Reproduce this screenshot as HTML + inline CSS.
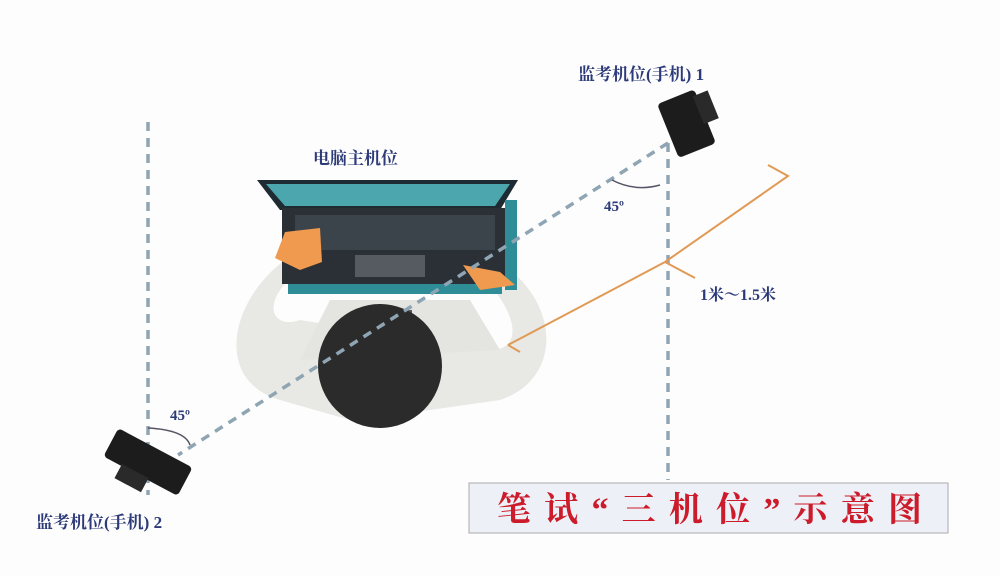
<!DOCTYPE html>
<html><head><meta charset="utf-8"><style>
html,body{margin:0;padding:0;background:#fff;}
svg{display:block}
text{font-family:"Liberation Serif","Noto Serif CJK SC",serif;font-weight:bold}
</style></head><body>
<svg width="1000" height="576" viewBox="0 0 1000 576">
<rect width="1000" height="576" fill="#fdfdfd"/>
<path d="M300,250 C230,290 210,380 280,400 L350,420 L430,410 L500,400 C560,380 560,310 510,270 L490,285 C520,320 520,350 490,350 L300,320 C270,330 260,300 300,270 Z" fill="#e8e8e4"/>
<path d="M330,300 L470,300 L500,350 L300,360 Z" fill="#e4e4e0"/>
<polygon points="257,180 518,180 500,210 280,210" fill="#1f2b33"/>
<polygon points="266,184 510,184 495,206 285,206" fill="#4ba7ad"/>
<rect x="282" y="208" width="228" height="76" fill="#2a3036"/>
<rect x="288" y="284" width="214" height="10" fill="#2e8d96"/>
<rect x="505" y="200" width="12" height="90" fill="#2e8d96"/>
<g fill="#3c444b"><rect x="295" y="215" width="200" height="35"/></g>
<rect x="355" y="255" width="70" height="22" fill="#555b60"/>
<path d="M275,258 L285,232 L320,228 L322,262 L300,270 Z" fill="#ef9a4e"/>
<path d="M463,265 L500,272 L515,285 L480,290 Z" fill="#ef9a4e"/>
<rect x="378" y="310" width="34" height="22" fill="#5a5a5a"/>
<circle cx="380" cy="366" r="62" fill="#2b2b2b"/>
<g stroke="#8fa5b3" stroke-width="3.5" stroke-dasharray="9,7" fill="none">
<line x1="148" y1="122" x2="148" y2="495"/>
<line x1="668" y1="143" x2="668" y2="480"/>
<line x1="668" y1="143" x2="178" y2="455"/>
</g>
<path d="M612,180 Q635,192 660,185" stroke="#556" stroke-width="1.5" fill="none"/>
<path d="M148,428 Q185,430 190,445" stroke="#556" stroke-width="1.5" fill="none"/>
<g stroke="#e09a55" stroke-width="2" fill="none">
<polyline points="768,165 788,176 665,262"/>
<line x1="665" y1="262" x2="508" y2="345"/>
<polyline points="508,345 520,352"/>
<line x1="665" y1="262" x2="695" y2="278"/>
</g>
<g transform="translate(688,122) rotate(-22)">
<rect x="-22" y="-28" width="40" height="58" rx="4" fill="#1c1c1c"/>
<rect x="14" y="-22" width="16" height="30" fill="#2a2a2a"/>
</g>
<g transform="translate(148,462) rotate(28)">
<rect x="-42" y="-16" width="84" height="32" rx="4" fill="#1c1c1c"/>
<rect x="-22" y="14" width="30" height="16" fill="#2a2a2a"/>
</g>
<text x="578" y="80" font-size="17" fill="#2c3a78">监考机位(手机) 1</text>
<text x="313" y="164" font-size="17" fill="#2c3a78">电脑主机位</text>
<text x="604" y="211" font-size="15" fill="#2c3a78">45º</text>
<text x="170" y="420" font-size="15" fill="#2c3a78">45º</text>
<text x="700" y="300" font-size="16" fill="#2c3a78">1米～1.5米</text>
<text x="36" y="528" font-size="17" fill="#2c3a78">监考机位(手机) 2</text>
<rect x="469" y="483" width="479" height="50" fill="#eef0f7" stroke="#aaa" stroke-width="1"/>
<text x="497" y="521" font-size="34" fill="#cc1b2a" textLength="425" lengthAdjust="spacing">笔试“三机位”示意图</text>
</svg>
</body></html>
